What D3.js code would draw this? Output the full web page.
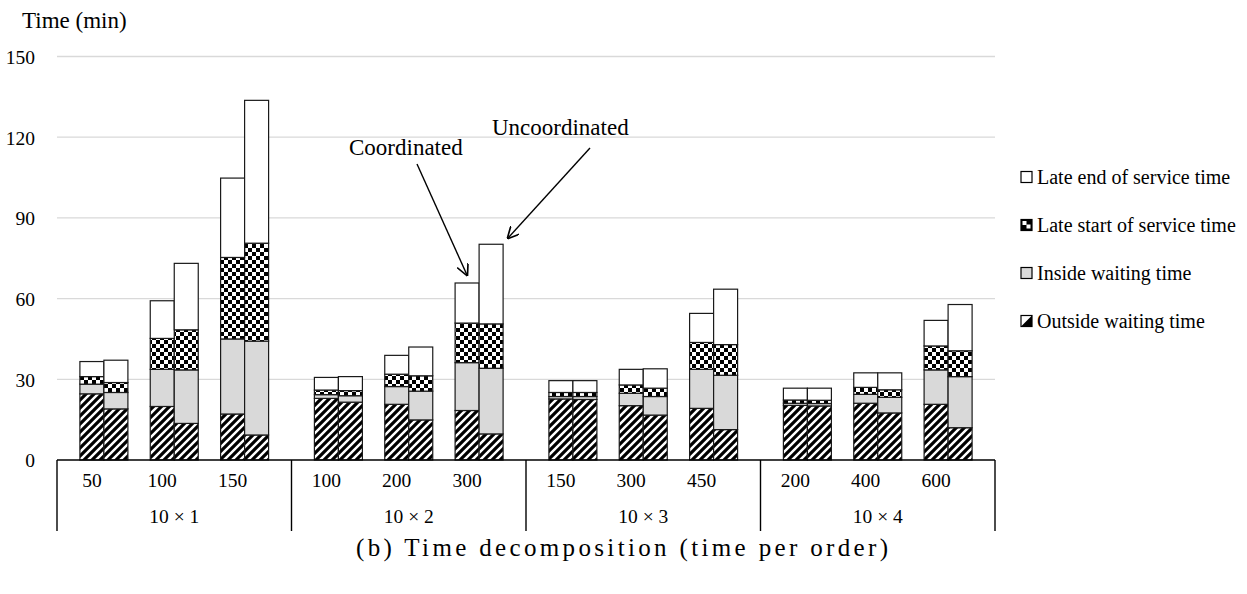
<!DOCTYPE html>
<html>
<head>
<meta charset="utf-8">
<script src="https://cdn.jsdelivr.net/npm/d3@7/dist/d3.min.js"></script>
<style>
  html, body { margin: 0; padding: 0; background: #fff; }
</style>
</head>
<body>
<svg id="chart" width="1247" height="594" font-family="'Liberation Serif', Tinos, 'Times New Roman', 'DejaVu Serif', serif"></svg>
<script>
// Problem sizes (outer axis level) and order counts (inner axis level)
const groups = ["10 × 1", "10 × 2", "10 × 3", "10 × 4"];
const orderCounts = [
  ["50", "100", "150"],
  ["100", "200", "300"],
  ["150", "300", "450"],
  ["200", "400", "600"]
];
const scenarios = ["Coordinated", "Uncoordinated"];
const yTicks = [0, 30, 60, 90, 120, 150];

// Time components per order (minutes), one entry per instance, in axis order
const coordOutside   = [24.6, 19.9, 17.1, 22.9, 20.7, 18.4, 22.7, 20.2, 19.2, 20.3, 21.1, 20.7];
const coordInside    = [3.6, 13.8, 27.9, 1.4, 6.6, 17.8, 0.9, 4.6, 14.5, 0.8, 3.3, 12.8];
const coordLateStart = [2.8, 11.5, 30.3, 1.7, 4.6, 14.7, 1.5, 3.1, 10.0, 1.2, 2.6, 8.9];
const coordLateEnd   = [5.6, 14.0, 29.5, 4.7, 7.0, 14.9, 4.4, 5.8, 10.8, 4.4, 5.4, 9.5];

const uncoOutside    = [19.0, 13.6, 9.3, 21.5, 14.9, 9.7, 22.5, 16.7, 11.3, 20.1, 17.5, 12.0];
const uncoInside     = [6.1, 19.9, 34.9, 2.4, 10.7, 24.4, 1.1, 6.9, 20.2, 0.9, 5.8, 19.0];
const uncoLateStart  = [3.7, 14.9, 36.4, 1.9, 5.7, 16.5, 1.5, 3.1, 11.4, 1.2, 2.8, 9.6];
const uncoLateEnd    = [8.3, 24.7, 53.1, 5.2, 10.7, 29.6, 4.4, 7.2, 20.6, 4.5, 6.3, 17.2];

const componentKeys = ["outside", "inside", "lateStart", "lateEnd"];
const componentLabels = {
  outside: "Outside waiting time",
  inside: "Inside waiting time",
  lateStart: "Late start of service time",
  lateEnd: "Late end of service time"
};

const FONT = "'Liberation Serif', Tinos, 'Times New Roman', 'DejaVu Serif', serif";

// Flat table for the stack layout
const rows = [];
groups.forEach((g, gi) => {
  orderCounts[gi].forEach((c, ci) => {
    const k = gi * 3 + ci;
    rows.push({ group: g, ci, cat: c, scenario: "Coordinated",
      outside: coordOutside[k], inside: coordInside[k], lateStart: coordLateStart[k], lateEnd: coordLateEnd[k] });
    rows.push({ group: g, ci, cat: c, scenario: "Uncoordinated",
      outside: uncoOutside[k], inside: uncoInside[k], lateStart: uncoLateStart[k], lateEnd: uncoLateEnd[k] });
  });
});

const svg = d3.select("#chart");
const plotLeft = 57, plotRight = 995, axisY = 460, topY = 56.5;

const x0 = d3.scaleBand().domain(groups).range([plotLeft, plotRight]).padding(0);
const x1 = d3.scaleBand().domain([0, 1, 2]).range([0, x0.bandwidth()]).paddingInner(0).paddingOuter(1 / 6);
const x2 = d3.scaleBand().domain(scenarios).range([0, x1.bandwidth()]).paddingInner(0).paddingOuter(0.4656);
const y = d3.scaleLinear().domain([0, 150]).range([axisY, topY]);

// Fill patterns
const defs = svg.append("defs");
const hatch = defs.append("pattern").attr("id", "hatch")
  .attr("patternUnits", "userSpaceOnUse").attr("width", 8).attr("height", 8);
hatch.append("rect").attr("width", 8).attr("height", 8).attr("fill", "#fff");
hatch.append("path").attr("d", "M-2,2 L2,-2 M0,8 L8,0 M6,10 L10,6")
  .attr("stroke", "#000").attr("stroke-width", 3.2);

const checker = defs.append("pattern").attr("id", "checker")
  .attr("patternUnits", "userSpaceOnUse").attr("width", 8).attr("height", 8);
checker.append("rect").attr("width", 8).attr("height", 8).attr("fill", "#fff");
checker.append("rect").attr("width", 4).attr("height", 4).attr("fill", "#000");
checker.append("rect").attr("x", 4).attr("y", 4).attr("width", 4).attr("height", 4).attr("fill", "#000");

const fills = {
  outside: "url(#hatch)",
  inside: "#d9d9d9",
  lateStart: "url(#checker)",
  lateEnd: "#ffffff"
};

// Gridlines and value axis
const yAxis = d3.axisLeft(y).tickValues(yTicks).tickSize(0).tickPadding(0);
const gy = svg.append("g").attr("transform", `translate(${plotLeft - 22},0)`).call(yAxis);
gy.attr("font-family", FONT).attr("font-size", null);
gy.select(".domain").remove();
gy.selectAll("text").style("font-size", "19.5px").style("font-family", FONT).attr("dy", "0.35em");

svg.append("g").selectAll("line").data(yTicks.filter(t => t > 0)).join("line")
  .attr("x1", plotLeft).attr("x2", plotRight)
  .attr("y1", d => y(d)).attr("y2", d => y(d))
  .attr("stroke", "#d9d9d9").attr("stroke-width", 1.3);

// Stacked bars
const stack = d3.stack().keys(componentKeys);
const series = stack(rows);
const barX = d => x0(d.data.group) + x1(d.data.ci) + x2(d.data.scenario);

svg.append("g").selectAll("g").data(series).join("g")
  .attr("fill", s => fills[s.key])
  .selectAll("rect").data(s => s).join("rect")
  .attr("x", barX)
  .attr("y", d => y(d[1]))
  .attr("width", x2.bandwidth())
  .attr("height", d => y(d[0]) - y(d[1]))
  .attr("stroke", "#1a1a1a").attr("stroke-width", 1.2);

// Category axis: baseline, separators, two label levels
svg.append("line").attr("x1", plotLeft).attr("x2", plotRight)
  .attr("y1", axisY).attr("y2", axisY).attr("stroke", "#000").attr("stroke-width", 1.4);

const sepXs = groups.map(g => x0(g)).concat([plotRight]);
svg.append("g").selectAll("line").data(sepXs).join("line")
  .attr("x1", d => d).attr("x2", d => d)
  .attr("y1", axisY).attr("y2", 531)
  .attr("stroke", "#000").attr("stroke-width", 1.4);

svg.append("g").selectAll("text").data(rows.filter(r => r.scenario === "Coordinated")).join("text")
  .attr("x", r => x0(r.group) + x1(r.ci) + x2("Coordinated") + x2.bandwidth() / 2)
  .attr("y", 487)
  .attr("text-anchor", "middle")
  .style("font-family", FONT)
  .style("font-size", "19.5px")
  .text(r => r.cat);

svg.append("g").selectAll("text").data(groups).join("text")
  .attr("x", g => x0(g) + x0.bandwidth() / 2)
  .attr("y", 523)
  .attr("text-anchor", "middle")
  .style("font-family", FONT)
  .style("font-size", "19.5px")
  .text(g => g);

// Value axis title
svg.append("text").attr("x", 22).attr("y", 28)
  .style("font-family", FONT).style("font-size", "23px").text("Time (min)");

// Annotations with arrows
defs.append("marker").attr("id", "arrowhead")
  .attr("viewBox", "0 0 10 10").attr("refX", 9).attr("refY", 5)
  .attr("markerWidth", 12).attr("markerHeight", 12).attr("markerUnits", "userSpaceOnUse")
  .attr("orient", "auto")
  .append("path").attr("d", "M0,0 L10,5 L0,10").attr("fill", "none").attr("stroke", "#000").attr("stroke-width", 1.4);

svg.append("text").attr("x", 349).attr("y", 155)
  .style("font-family", FONT).style("font-size", "23px").text("Coordinated");
svg.append("text").attr("x", 492).attr("y", 135)
  .style("font-family", FONT).style("font-size", "23px").text("Uncoordinated");

svg.append("line").attr("x1", 417).attr("y1", 164).attr("x2", 467).attr("y2", 275)
  .attr("stroke", "#000").attr("stroke-width", 1.4).attr("marker-end", "url(#arrowhead)");
svg.append("line").attr("x1", 590).attr("y1", 148).attr("x2", 508).attr("y2", 238)
  .attr("stroke", "#000").attr("stroke-width", 1.4).attr("marker-end", "url(#arrowhead)");

// Legend
const legendKeys = ["lateEnd", "lateStart", "inside", "outside"];
const legendY = [177, 225, 273, 321];
const legend = svg.append("g");
legendKeys.forEach((k, i) => {
  const g = legend.append("g").attr("transform", `translate(1021,${legendY[i]})`);
  const s = 11;
  g.append("rect").attr("x", 0).attr("y", -s / 2).attr("width", s).attr("height", s)
    .attr("fill", k === "inside" ? "#d9d9d9" : "#fff");
  if (k === "lateStart") {
    g.append("rect").attr("x", 0).attr("y", -s / 2).attr("width", s).attr("height", s).attr("fill", "#000");
    g.append("rect").attr("x", s / 2).attr("y", -0.5).attr("width", 4).attr("height", 4).attr("fill", "#fff");
    g.append("rect").attr("x", 1.5).attr("y", -s / 2 + 1.5).attr("width", 4).attr("height", 4).attr("fill", "#fff");
  }
  if (k === "outside") {
    g.append("path").attr("d", `M${s},${-s / 2} L${s},${s / 2} L0,${s / 2} Z`).attr("fill", "#000");
  }
  g.append("rect").attr("x", 0).attr("y", -s / 2).attr("width", s).attr("height", s)
    .attr("fill", "none").attr("stroke", "#000").attr("stroke-width", 1.2);
  g.append("text").attr("x", 16).attr("dy", "0.35em")
    .style("font-family", FONT).style("font-size", "20px").text(componentLabels[k]);
});

// Caption
svg.append("text").attr("x", 622).attr("y", 556).attr("text-anchor", "middle")
  .style("font-family", FONT)
  .style("font-size", "25px")
  .attr("textLength", 532).attr("lengthAdjust", "spacing")
  .text("(b) Time decomposition (time per order)");
</script>
</body>
</html>
